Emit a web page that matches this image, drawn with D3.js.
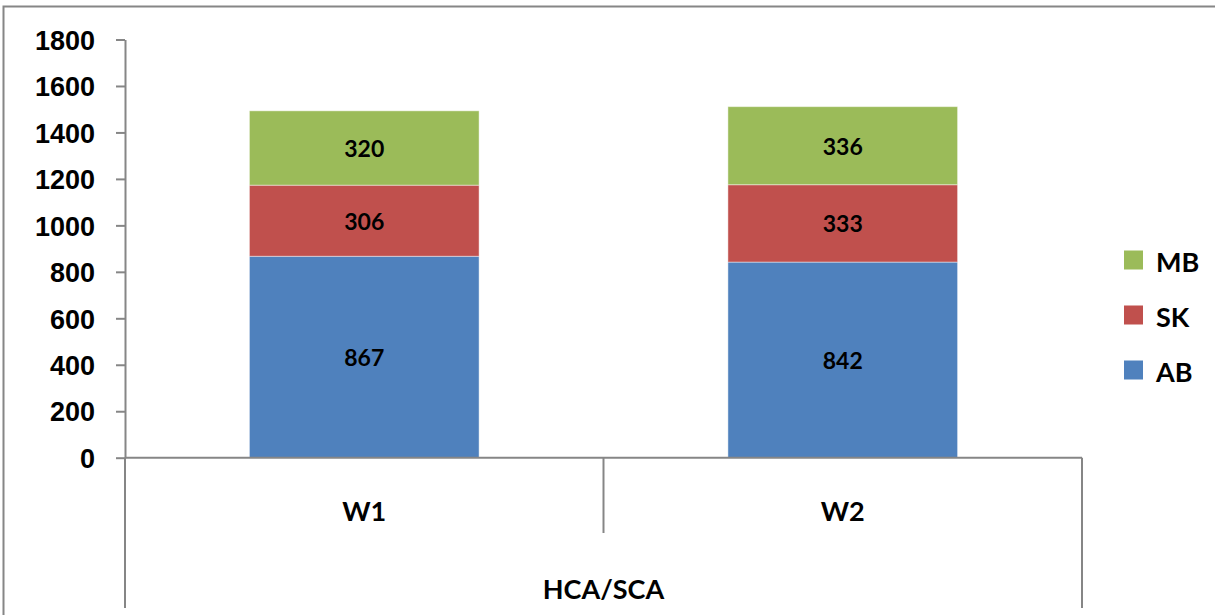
<!DOCTYPE html>
<html>
<head>
<meta charset="utf-8">
<script src="https://cdn.jsdelivr.net/npm/d3@7"></script>
<style>
  body { margin: 0; background: #fff; }
  svg { display: block; font-family: Lato, "Open Sans", sans-serif; font-weight: 700; }
  .axis path, .axis line { stroke: #868686; stroke-width: 2px; }
  .axis text { fill: #000; font-size: 27px; }
</style>
</head>
<body>
<div id="chart"></div>
<script>
const WIDTH = 1215
const HEIGHT = 615

// data
const categories = ['W1', 'W2']
const groupLabel = 'HCA/SCA'
const series = ['AB', 'SK', 'MB']
const abValues = [867, 842]
const skValues = [306, 333]
const mbValues = [320, 336]
const yTicks = [0, 200, 400, 600, 800, 1000, 1200, 1400, 1600, 1800]
const colors = ['#4F81BD', '#C0504D', '#9BBB59']

const PLOT_LEFT = 125
const PLOT_RIGHT = 1082
const PLOT_TOP = 39.5
const PLOT_BOTTOM = 457.7
const AXIS_GRAY = '#868686'

const main = _ => {
    const rows = categories.map((c, i) => ({ cat: c, AB: abValues[i], SK: skValues[i], MB: mbValues[i] }))
    const stacked = d3.stack().keys(series)(rows)

    const y = d3.scaleLinear()
        .domain([0, d3.max(yTicks)])
        .range([PLOT_BOTTOM, PLOT_TOP])

    const x = d3.scaleBand()
        .domain(categories)
        .range([PLOT_LEFT, PLOT_RIGHT])

    const barW = x.bandwidth() * 0.48
    const color = d3.scaleOrdinal().domain(series).range(colors)

    const svg = d3.select('#chart')
        .append('svg')
        .attr('width', WIDTH)
        .attr('height', HEIGHT)

    // chart frame (only top/left visible)
    svg.append('rect')
        .attr('x', 3.5).attr('y', 6.5)
        .attr('width', WIDTH).attr('height', HEIGHT)
        .attr('fill', 'none')
        .attr('stroke', AXIS_GRAY)
        .attr('stroke-width', 2)

    // bars
    const layers = svg.selectAll('g.layer')
        .data(stacked)
        .enter()
        .append('g')
        .attr('class', 'layer')
        .attr('fill', d => color(d.key))

    layers.selectAll('rect')
        .data(d => d)
        .enter()
        .append('rect')
        .attr('x', d => x(d.data.cat) + (x.bandwidth() - barW) / 2)
        .attr('width', barW)
        .attr('y', d => y(d[1]))
        .attr('height', d => y(d[0]) - y(d[1]))
        .attr('stroke', 'rgba(255,255,255,0.45)')
        .attr('stroke-width', 1)

    // segment labels
    layers.selectAll('text')
        .data(d => d.map(v => ({ v, key: d.key })))
        .enter()
        .append('text')
        .attr('x', d => x(d.v.data.cat) + x.bandwidth() / 2)
        .attr('y', d => (y(d.v[0]) + y(d.v[1])) / 2)
        .attr('text-anchor', 'middle')
        .attr('dominant-baseline', 'central')
        .attr('fill', '#000')
        .attr('font-size', 23)
        .text(d => d.v.data[d.key])

    // y axis
    const yAxis = d3.axisLeft(y)
        .tickValues(yTicks)
        .tickFormat(d3.format('d'))
        .tickSize(9)
        .tickPadding(21)
        .tickSizeOuter(0)

    svg.append('g')
        .attr('class', 'axis')
        .attr('transform', `translate(${PLOT_LEFT}, 0)`)
        .call(yAxis)
        .call(g => g.selectAll('.tick text').attr('dy', '0.36em'))

    // x axis base line
    svg.append('line')
        .attr('x1', PLOT_LEFT).attr('x2', PLOT_RIGHT)
        .attr('y1', PLOT_BOTTOM).attr('y2', PLOT_BOTTOM)
        .attr('stroke', AXIS_GRAY).attr('stroke-width', 2)

    // category separators (two-level axis)
    const edges = [PLOT_LEFT, ...categories.slice(1).map(c => x(c)), PLOT_RIGHT]
    svg.selectAll('line.sep')
        .data(edges)
        .enter()
        .append('line')
        .attr('class', 'sep')
        .attr('x1', d => d).attr('x2', d => d)
        .attr('y1', PLOT_BOTTOM)
        .attr('y2', (d, i) => (i === 0 || i === edges.length - 1) ? 608 : 533)
        .attr('stroke', AXIS_GRAY)
        .attr('stroke-width', 2)

    svg.selectAll('text.cat')
        .data(categories)
        .enter()
        .append('text')
        .attr('class', 'cat')
        .attr('x', d => x(d) + x.bandwidth() / 2)
        .attr('y', 510)
        .attr('text-anchor', 'middle')
        .attr('dominant-baseline', 'central')
        .attr('font-size', 27)
        .text(d => d)

    svg.append('text')
        .attr('x', (PLOT_LEFT + PLOT_RIGHT) / 2)
        .attr('y', 588)
        .attr('text-anchor', 'middle')
        .attr('dominant-baseline', 'central')
        .attr('font-size', 27)
        .text(groupLabel)

    // legend, reversed order like excel
    const legendY = d3.scalePoint()
        .domain(series.slice().reverse())
        .range([260, 370])

    const legend = svg.selectAll('g.legend')
        .data(series.slice().reverse())
        .enter()
        .append('g')
        .attr('class', 'legend')
        .attr('transform', d => `translate(1124, ${legendY(d)})`)

    legend.append('rect')
        .attr('x', 0).attr('y', -9.5)
        .attr('width', 19).attr('height', 19)
        .attr('fill', d => color(d))

    legend.append('text')
        .attr('x', 32)
        .attr('y', 1)
        .attr('dominant-baseline', 'central')
        .attr('font-size', 27)
        .text(d => d)
}

document.addEventListener('DOMContentLoaded', main)
</script>
</body>
</html>
